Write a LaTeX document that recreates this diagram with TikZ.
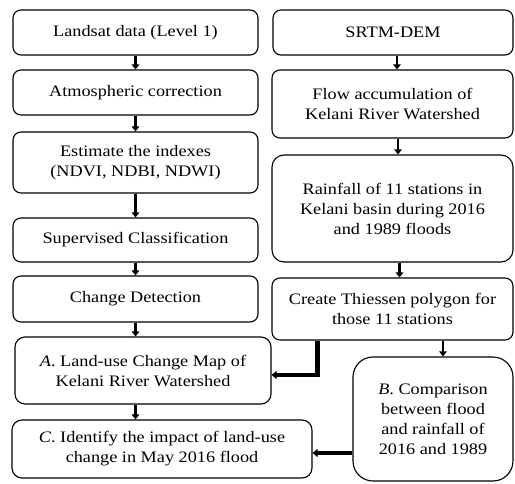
\documentclass[tikz,border=0pt]{standalone}
\usepackage{fontspec}
\setmainfont{Liberation Serif}[FakeStretch=1.14]
\usetikzlibrary{arrows.meta}
\begin{document}
\begin{tikzpicture}[x=1pt,y=-1pt,
  box/.style={draw,line width=1.1pt,rounded corners=8pt,align=center,inner sep=0pt,
    font=\fontsize{16}{20}\selectfont},
  smallarrow/.style={line width=2.5pt,-{Triangle[width=7.5pt,length=5pt]}},
  bigarrow/.style={line width=4.5pt,-{Triangle[width=8pt,length=5pt]}}]
\useasboundingbox (0,0) rectangle (515,484);
% left column
\node[box,minimum width=245pt,minimum height=45pt] (b1) at (135.5,32.5) {Landsat data (Level 1)};
\node[box,minimum width=245pt,minimum height=45pt] (b2) at (135.5,92.5) {Atmospheric correction};
\node[box,minimum width=245pt,minimum height=61pt] (b3) at (135.5,162.5) {Estimate the indexes\\(NDVI, NDBI, NDWI)};
\node[box,minimum width=245pt,minimum height=44pt] (b4) at (135.5,240) {Supervised Classification};
\node[box,minimum width=245pt,minimum height=46pt] (b5) at (135.5,299) {Change Detection};
\node[box,rounded corners=10pt,minimum width=256pt,minimum height=67pt] (b6) at (143,370.5) {\textit{A}. Land-use Change Map of\\Kelani River Watershed};
\node[box,rounded corners=10pt,minimum width=300pt,minimum height=58pt] (b7) at (162,449) {\textit{C}. Identify the impact of land-use\\change in May 2016 flood};
% right column
\node[box,minimum width=240pt,minimum height=45pt] (r1) at (393,32.5) {SRTM-DEM};
\node[box,minimum width=241pt,minimum height=68pt] (r2) at (392.5,104) {Flow accumulation of\\Kelani River Watershed};
\node[box,rounded corners=12pt,minimum width=241pt,minimum height=107pt] (r3) at (392.5,208.5) {Rainfall of 11 stations in\\Kelani basin during 2016\\and 1989 floods};
\node[box,minimum width=241pt,minimum height=62pt] (r4) at (392.5,309) {Create Thiessen polygon for\\those 11 stations};
\node[box,rounded corners=20pt,minimum width=160pt,minimum height=124pt] (r5) at (433,419) {\textit{B}. Comparison\\between flood\\and rainfall of\\2016 and 1989};
% arrows left
\draw[smallarrow] (b1.south) -- (b2.north);
\draw[smallarrow] (b2.south) -- (b3.north);
\draw[smallarrow] (b3.south) -- (b4.north);
\draw[smallarrow] (b4.south) -- (b5.north);
\draw[smallarrow] (b5.south) -- (b5.south |- b6.north);
\draw[smallarrow] (b6.south -| b5.south) -- (b5.south |- b7.north);
% arrows right
\draw[smallarrow] ([xshift=4pt]r1.south) -- ([xshift=4.5pt]r2.north);
\draw[smallarrow] ([xshift=5.5pt]r2.south) -- ([xshift=5.5pt]r3.north);
\draw[smallarrow] ([xshift=7pt]r3.south) -- ([xshift=7pt]r4.north);
\draw[smallarrow] ([xshift=50.5pt]r4.south) -- ([xshift=50.5pt]r4.south |- r5.north);
% big connectors
\draw[bigarrow] ([xshift=46pt]r4.south west) |- ([yshift=-4.5pt]b6.east);
\draw[bigarrow] ([yshift=-34pt]r5.west) -- ([yshift=-34pt]r5.west -| b7.east);
\end{tikzpicture}
\end{document}
